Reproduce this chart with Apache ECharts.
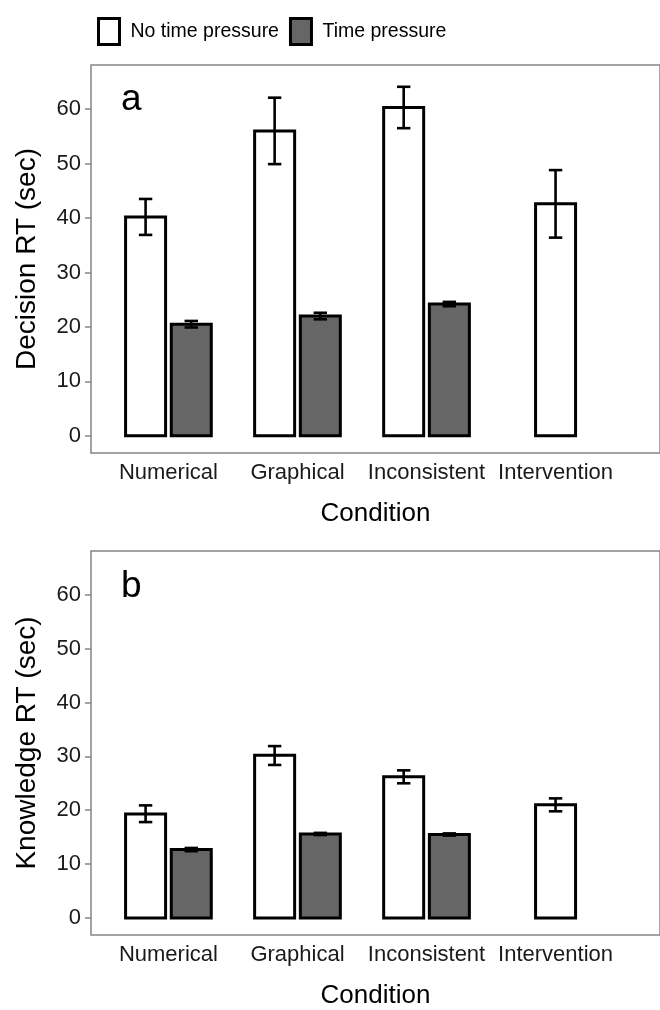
<!DOCTYPE html>
<html>
<head>
<meta charset="utf-8">
<script src="https://cdn.jsdelivr.net/npm/echarts@6/dist/echarts.min.js"></script>
<style>
html,body{margin:0;padding:0;background:#fff;}
#chart{width:660px;height:1010px;}
</style>
</head>
<body>
<div id="chart"></div>
<script>
// ---- data ----
const categories = ['Numerical', 'Graphical', 'Inconsistent', 'Intervention'];
const seriesNames = ['No time pressure', 'Time pressure'];
const yTicks = [0, 10, 20, 30, 40, 50, 60];

// Panel a: Decision RT (sec)
const decisionNoTP   = [40.2, 56.0, 60.3, 42.6];
const decisionNoTPLo = [36.9, 49.9, 56.5, 36.4];
const decisionNoTPHi = [43.5, 62.1, 64.1, 48.8];
const decisionTP     = [20.5, 22.0, 24.2, null];
const decisionTPLo   = [19.9, 21.4, 23.8, null];
const decisionTPHi   = [21.1, 22.6, 24.6, null];

// Panel b: Knowledge RT (sec)
const knowledgeNoTP   = [19.3, 30.2, 26.2, 21.0];
const knowledgeNoTPLo = [17.8, 28.4, 25.0, 19.8];
const knowledgeNoTPHi = [20.9, 31.9, 27.4, 22.2];
const knowledgeTP     = [12.7, 15.6, 15.5, null];
const knowledgeTPLo   = [12.4, 15.4, 15.3, null];
const knowledgeTPHi   = [13.0, 15.8, 15.7, null];

// ---- helpers ----
function items(vals, lo, hi, other) {
  const out = [];
  vals.forEach((v, i) => {
    if (v == null) return;
    out.push([i, v, lo[i], hi[i], other[i] != null ? 1 : 0]);
  });
  return out;
}

const FONT = 'Liberation Sans, Arial, sans-serif';
const AXIS_GREY = '#858585';
const TEXT_COL = '#1a1a1a';

function renderer(side, fill) {
  return function (params, api) {
    const paired = api.value(4);
    const cx = api.value(0) + (paired ? side * 0.177 : 0);
    const hw = 0.155;
    const tl = api.coord([cx - hw, api.value(1)]);
    const br = api.coord([cx + hw, 0]);
    const top = api.coord([cx, api.value(3)]);
    const bot = api.coord([cx, api.value(2)]);
    const cap = api.size([1, 0])[0] * 0.052;
    const lineStyle = { stroke: '#000', lineWidth: 2.6, fill: null };
    return {
      type: 'group',
      children: [
        { type: 'rect', shape: { x: tl[0], y: tl[1], width: br[0] - tl[0], height: br[1] - tl[1] },
          style: { fill: fill, stroke: '#000', lineWidth: 3, lineJoin: 'miter' } },
        { type: 'line', shape: { x1: top[0], y1: top[1], x2: bot[0], y2: bot[1] }, style: lineStyle },
        { type: 'line', shape: { x1: top[0] - cap, y1: top[1], x2: top[0] + cap, y2: top[1] }, style: lineStyle },
        { type: 'line', shape: { x1: bot[0] - cap, y1: bot[1], x2: bot[0] + cap, y2: bot[1] }, style: lineStyle }
      ]
    };
  };
}

const grids = [
  { left: 91, right: -2, top: 65, height: 388 },
  { left: 91, right: -2, top: 551, height: 388 }
];
const yNames = ['Decision RT (sec)', 'Knowledge RT (sec)'];

const option = {
  backgroundColor: '#fff',
  animation: false,
  textStyle: { fontFamily: FONT },
  legend: {
    top: 17, left: 97, padding: 0, itemWidth: 21, itemHeight: 26, itemGap: 10,
    icon: 'rect',
    textStyle: { fontSize: 19.5, color: '#000', fontFamily: FONT, padding: [0, 0, 0, 6] },
    data: [
      { name: seriesNames[0], itemStyle: { color: '#fff', borderColor: '#000', borderWidth: 3 } },
      { name: seriesNames[1], itemStyle: { color: '#666', borderColor: '#000', borderWidth: 3 } }
    ],
    selectedMode: false
  },
  title: [
    { text: 'a', left: 121, top: 81, padding: 0, textStyle: { fontSize: 37, fontWeight: 'normal', color: '#000', fontFamily: FONT } },
    { text: 'b', left: 121, top: 568, padding: 0, textStyle: { fontSize: 37, fontWeight: 'normal', color: '#000', fontFamily: FONT } }
  ],
  grid: grids.map(g => Object.assign({ show: true, borderColor: AXIS_GREY, borderWidth: 1.5, backgroundColor: 'transparent' }, g)),
  xAxis: [0, 1].map(k => ({
    type: 'value', gridIndex: k, min: -0.6, max: -0.6 + 571 / 129.5,
    name: 'Condition', nameLocation: 'middle', nameGap: 48,
    nameTextStyle: { fontSize: 26, color: '#000', fontFamily: FONT },
    axisLine: { show: false, onZero: false }, axisTick: { show: false }, splitLine: { show: false },
    axisLabel: {
      customValues: categories.map((c, i) => i),
      formatter: v => categories[Math.round(v)] || '',
      fontSize: 22, color: TEXT_COL, margin: 9, fontFamily: FONT
    }
  })),
  yAxis: [0, 1].map(k => ({
    type: 'value', gridIndex: k, min: -3.15, max: 68.1,
    name: yNames[k], nameLocation: 'middle', nameGap: 50,
    nameTextStyle: { fontSize: 28, color: '#000', fontFamily: FONT },
    axisLine: { show: false, onZero: false }, splitLine: { show: false },
    axisTick: { show: true, inside: false, customValues: yTicks, length: 6, lineStyle: { color: AXIS_GREY, width: 1.5 } },
    axisLabel: { customValues: yTicks, fontSize: 22, color: TEXT_COL, margin: 10, fontFamily: FONT }
  })),
  series: [
    { name: seriesNames[0], type: 'custom', xAxisIndex: 0, yAxisIndex: 0,
      itemStyle: { color: '#fff', borderColor: '#000' },
      renderItem: renderer(-1, '#fff'),
      data: items(decisionNoTP, decisionNoTPLo, decisionNoTPHi, decisionTP) },
    { name: seriesNames[1], type: 'custom', xAxisIndex: 0, yAxisIndex: 0,
      itemStyle: { color: '#666', borderColor: '#000' },
      renderItem: renderer(1, '#666'),
      data: items(decisionTP, decisionTPLo, decisionTPHi, decisionNoTP) },
    { name: seriesNames[0], type: 'custom', xAxisIndex: 1, yAxisIndex: 1,
      itemStyle: { color: '#fff', borderColor: '#000' },
      renderItem: renderer(-1, '#fff'),
      data: items(knowledgeNoTP, knowledgeNoTPLo, knowledgeNoTPHi, knowledgeTP) },
    { name: seriesNames[1], type: 'custom', xAxisIndex: 1, yAxisIndex: 1,
      itemStyle: { color: '#666', borderColor: '#000' },
      renderItem: renderer(1, '#666'),
      data: items(knowledgeTP, knowledgeTPLo, knowledgeTPHi, knowledgeNoTP) }
  ]
};

const chart = echarts.init(document.getElementById('chart'), null, { renderer: 'canvas' });
chart.setOption(option);
</script>
</body>
</html>
